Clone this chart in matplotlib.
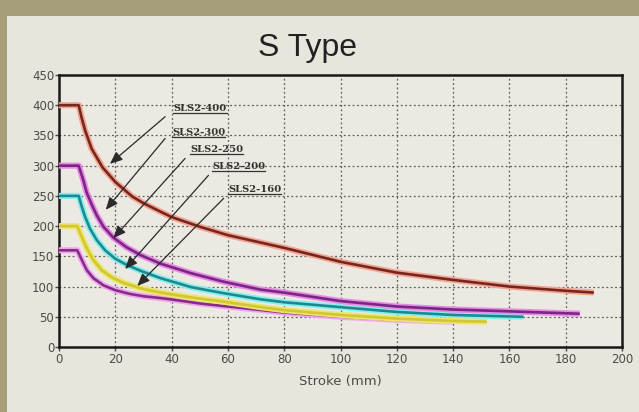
import matplotlib.pyplot as plt
from matplotlib.patches import Rectangle
from matplotlib.lines import Line2D

# curve data (stroke mm -> force)
x400 = [0, 7, 8, 9.3, 11.6, 15.5, 20, 26, 30, 36, 40, 50, 60, 80, 100, 120, 140, 160, 180, 190]
y400 = [400, 400, 380, 358, 328, 297, 273, 249, 238, 224, 215, 199, 185, 164, 141, 123, 111, 100, 93, 90]
x300 = [0, 7, 8.7, 9.8, 11.6, 13.4, 15.8, 19.3, 24, 29, 36, 47, 58.5, 71.5, 80, 100, 120, 140, 160, 185]
y300 = [300, 300, 275, 256, 236, 218, 199, 181, 165, 152, 138, 122, 108, 95, 90, 76, 67, 62, 59, 55]
x250 = [0, 7, 8.1, 9.3, 11, 13.4, 16.4, 20, 24, 29, 36, 47, 58.5, 71.5, 80, 100, 120, 140, 165]
y250 = [250, 250, 232, 215, 196, 177, 160, 146, 136, 126, 114, 99, 89, 79, 74, 66, 58, 53, 50]
x200 = [0, 6.5, 8.1, 9.9, 12.2, 15.2, 18.8, 23, 29, 36, 47, 58.5, 71.5, 80, 100, 120, 140, 152]
y200 = [200, 200, 182, 163, 144, 127, 115, 106, 97, 90, 82, 75, 66, 61, 53, 47, 43, 42]
x160 = [0, 6.5, 8.1, 9.9, 12.2, 15.8, 20, 25, 30, 36, 41, 50, 60, 80, 100, 120, 140]
y160 = [160, 160, 144, 127, 114, 102, 94, 88, 84, 81, 78, 72, 67, 57, 50, 45, 42]

names = ['SLS2-400', 'SLS2-300', 'SLS2-250', 'SLS2-200', 'SLS2-160']
label_xy = [(40.6, 395), (40.2, 355), (46.6, 326), (54.4, 298), (60.1, 261)]
tail_xy = [(37.7, 381), (37.7, 345), (44.8, 312), (53.1, 284), (58.5, 246)]
tip_xy = [(18.1, 303), (16.6, 227), (19.3, 180), (23.5, 129), (27.8, 101)]

fig = plt.figure(figsize=(6.39, 4.12), dpi=100)
fig.patch.set_facecolor('#a69e7b')
fig.patches.append(Rectangle((7 / 639, 0), 1, 1 - 16 / 412, transform=fig.transFigure,
                             facecolor='#e7e5dc', edgecolor='none', zorder=-10))

ax = fig.add_axes([59 / 639, 1 - 347 / 412, 563 / 639, 272 / 412])
ax.set_facecolor('#ebe9e1')

# drawn bottom-up so the overlaps look like the original
curves = [
    (x160, y160, '#862c88', '#f0a6ee'),
    (x200, y200, '#d2c632', '#ece66a'),
    (x250, y250, '#1c8a8c', '#86eef0'),
    (x300, y300, '#7b2682', '#e68be6'),
    (x400, y400, '#74261f', '#f2a592'),
]
for i, (xs, ys, core, halo) in enumerate(curves):
    ax.plot(xs, ys, color=halo, lw=4.4, solid_capstyle='butt', solid_joinstyle='round', zorder=3 + 2 * i)
    ax.plot(xs, ys, color=core, lw=1.9, solid_capstyle='butt', solid_joinstyle='round', zorder=4 + 2 * i)

ax.set_xlim(0, 200)
ax.set_ylim(0, 450)
ax.set_xticks(range(0, 201, 20))
ax.set_yticks(range(0, 451, 50))
ax.grid(True, color='#5e5e5e', linestyle=(0, (1.5, 2)), lw=0.9)
ax.set_axisbelow(True)
for s in ax.spines.values():
    s.set_linewidth(1.8)
    s.set_color('#1a1a1a')
ax.tick_params(axis='both', labelsize=8.5, colors='#4a4a4a', length=3, width=1, pad=1.5)
ax.tick_params(axis='y', pad=0.5)
ax.set_xlabel('Stroke (mm)', fontsize=9.5, color='#4a4a4a', labelpad=6)

texts = []
for name, lxy, txy, pxy in zip(names, label_xy, tail_xy, tip_xy):
    t = ax.text(lxy[0], lxy[1], name, fontsize=7.2, family='DejaVu Serif',
                fontweight='bold', color='#333333', va='center', ha='left', zorder=20)
    texts.append(t)
    ax.annotate('', xy=pxy, xytext=txy,
                arrowprops=dict(arrowstyle='-|>,head_length=0.75,head_width=0.32',
                                color='#2a2a2a', lw=0.9, shrinkA=0, shrinkB=0),
                zorder=20)

fig.text(307 / 639, 1 - 48 / 412, 'S Type', fontsize=23, family='Liberation Sans',
         color='#222222', ha='center', va='center')

# underline the labels using their drawn extents
fig.canvas.draw()
r = fig.canvas.get_renderer()
inv = fig.transFigure.inverted()
for t in texts:
    bb = t.get_window_extent(r)
    (x0, y0), (x1, _) = inv.transform([(bb.x0, bb.y0), (bb.x1, bb.y1)])
    fig.lines.append(Line2D([x0, x1], [y0, y0], transform=fig.transFigure,
                            color='#333333', lw=0.9))

fig.savefig('out.png', dpi=100)
